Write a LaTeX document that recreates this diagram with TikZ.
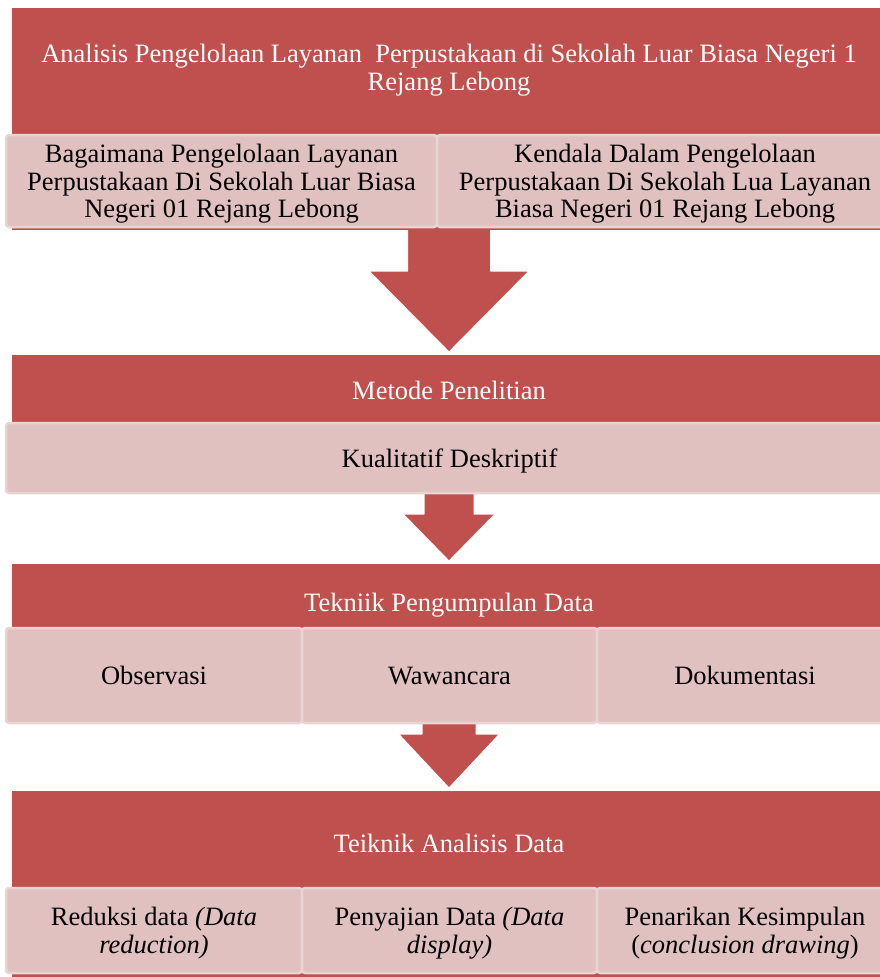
\documentclass[tikz,border=0pt]{standalone}
\usepackage{fontspec}
\setmainfont{Liberation Serif}
\usepackage{tikz}
\usetikzlibrary{positioning,calc}

\definecolor{blockred}{HTML}{C0504D}
\definecolor{boxpink}{HTML}{E0C1C0}
\definecolor{boxedge}{HTML}{E9D4D3}

% #1 from, #2 to, #3 stem half width, #4 head half width, #5 head length
\newcommand{\bigarrow}[5]{%
  \path[arrow style]
    ($(#1.south)+(-#3,0)$) -- ($(#2.north)+(-#3,-3-#5)$) -- ($(#2.north)+(-#4,-3-#5)$)
    -- ($(#2.north)+(0,-3)$) -- ($(#2.north)+(#4,-3-#5)$) -- ($(#2.north)+(#3,-3-#5)$)
    -- ($(#1.south)+(#3,0)$);
}

\begin{document}
\begin{tikzpicture}[x=1pt, y=-1pt,
    red block/.style={rectangle, fill=blockred, minimum width=874, inner sep=0pt, outer sep=0pt, anchor=north},
    head text/.style={text=white, align=center, font=\fontsize{26.5}{27.5}\selectfont, text height=18, text depth=6},
    pink box/.style={rectangle, fill=boxpink, draw=boxedge, line width=2.5pt, rounded corners=3pt,
        outer sep=0pt, inner sep=4pt, anchor=north west, align=center, text=black, text depth=-1.5,
        font=\fontsize{26.5}{27.5}\selectfont},
    arrow style/.style={fill=blockred, draw=white, line width=1pt, line join=round}
]
\useasboundingbox (0,0) rectangle (880,977);

% red blocks
\node[red block, minimum height=222] (analisis) at (449,8) {};
\node[red block, minimum height=135] (metode) at (449,355) {};
\node[red block, minimum height=159] (teknik) at (449,564) {};
\node[red block, minimum height=189] (analisisdata) at (449,791) {};

\node[head text] (judul) at (449,84) {Analisis Pengelolaan Layanan\ \ Perpustakaan di Sekolah Luar Biasa Negeri 1\\Rejang Lebong};
\node[head text] (judulmetode) at (449,393) {Metode Penelitian};
\node[head text] (judulteknik) at (449,605) {Tekniik Pengumpulan Data};
\node[head text] (judulanalisis) at (449,846) {Teiknik Analisis Data};

% arrows
\bigarrow{analisis}{metode}{41.5}{80}{81}
\bigarrow{metode}{teknik}{25}{46}{47}
\bigarrow{teknik}{analisisdata}{27}{50.5}{54}

% pink boxes
\node[pink box, minimum width=431, minimum height=92] (bagaimana) at (6,135)
    {Bagaimana Pengelolaan Layanan\\Perpustakaan Di Sekolah Luar Biasa\\Negeri 01 Rejang Lebong};
\node[pink box, minimum width=456, minimum height=92, right=0pt of bagaimana] (kendala)
    {Kendala Dalam Pengelolaan\\Perpustakaan Di Sekolah Lua Layanan\\Biasa Negeri 01 Rejang Lebong};

\node[pink box, minimum width=887, minimum height=70] (kualitatif) at (6,423) {Kualitatif Deskriptif};

\node[pink box, minimum width=296, minimum height=95] (observasi) at (6,628) {Observasi};
\node[pink box, minimum width=295, minimum height=95, right=0pt of observasi] (wawancara) {Wawancara};
\node[pink box, minimum width=296, minimum height=95, right=0pt of wawancara] (dokumentasi) {Dokumentasi};

\node[pink box, minimum width=296, minimum height=85] (reduksi) at (6,888)
    {Reduksi data \textit{(Data}\\\textit{reduction)}};
\node[pink box, minimum width=295, minimum height=85, right=0pt of reduksi] (penyajian)
    {Penyajian Data \textit{(Data}\\\textit{display)}};
\node[pink box, minimum width=296, minimum height=85, right=0pt of penyajian] (penarikan)
    {Penarikan Kesimpulan\\(\textit{conclusion drawing})};
\end{tikzpicture}
\end{document}
